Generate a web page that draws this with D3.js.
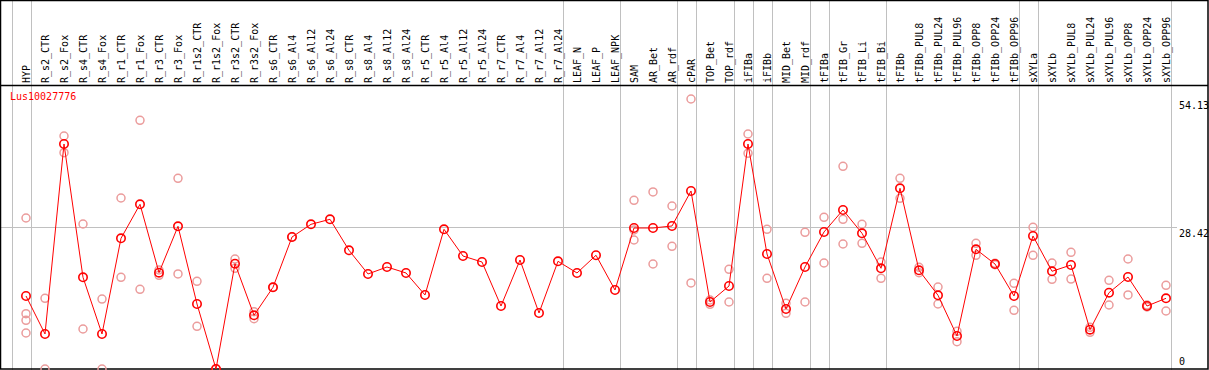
<!DOCTYPE html>
<html>
<head>
<meta charset="utf-8">
<script src="https://cdn.jsdelivr.net/npm/d3@7"></script>
<style>
  body { margin: 0; background: #fff; }
  text { font-family: "DejaVu Sans Mono", monospace; font-size: 10px; }
</style>
</head>
<body>
<div id="chart"></div>
<script>
// gene name shown in the plot corner
const geneName = 'Lus10027776';

// sample / tissue names, in plot order
const categories = [
  'HYP', 'R_s2_CTR', 'R_s2_Fox', 'R_s4_CTR', 'R_s4_Fox', 'R_r1_CTR', 'R_r1_Fox',
  'R_r3_CTR', 'R_r3_Fox', 'R_r1s2_CTR', 'R_r1s2_Fox', 'R_r3s2_CTR', 'R_r3s2_Fox',
  'R_s6_CTR', 'R_s6_Al4', 'R_s6_Al12', 'R_s6_Al24', 'R_s8_CTR', 'R_s8_Al4',
  'R_s8_Al12', 'R_s8_Al24', 'R_r5_CTR', 'R_r5_Al4', 'R_r5_Al12', 'R_r5_Al24',
  'R_r7_CTR', 'R_r7_Al4', 'R_r7_Al12', 'R_r7_Al24', 'LEAF_N', 'LEAF_P', 'LEAF_NPK',
  'SAM', 'AR_Bet', 'AR_rdf', 'cPAR', 'TOP_Bet', 'TOP_rdf', 'iFIBa', 'iFIBb',
  'MID_Bet', 'MID_rdf', 'tFIBa', 'tFIB_Gr', 'tFIB_Li', 'tFIB_Bi', 'tFIBb',
  'tFIBb_PUL8', 'tFIBb_PUL24', 'tFIBb_PUL96', 'tFIBb_OPP8', 'tFIBb_OPP24', 'tFIBb_OPP96',
  'sXYLa', 'sXYLb', 'sXYLb_PUL8', 'sXYLb_PUL24', 'sXYLb_PUL96',
  'sXYLb_OPP8', 'sXYLb_OPP24', 'sXYLb_OPP96'
];

// mean expression per sample
const means = [
  14.64, 7.02, 45.11, 18.38, 7.02, 26.20, 33.02, 19.31, 28.61, 13.03, 0, 21.11, 10.77,
  16.38, 26.46, 29.01, 30.01, 23.80, 19.05, 20.45, 19.25, 14.84, 28.01, 22.65, 21.45,
  12.63, 21.85, 11.23, 21.59, 19.25, 22.80, 15.84,
  28.27, 28.27, 28.67, 35.69, 13.43, 16.64, 45.11, 23.06, 12.03, 20.45, 27.47, 31.88,
  27.21, 20.19, 36.23, 19.79, 14.78, 6.62, 24.00, 21.05, 14.64,
  26.67, 19.59, 20.85, 7.88, 15.30, 18.44, 12.63, 14.17
];

// individual replicate values per sample
const replicates = [
  [30.27, 11.09, 9.76, 7.22], [14.17, 0], [46.71, 43.37], [29.07, 8.02], [14.03, 0],
  [34.28, 18.38], [49.86, 15.98], [19.85, 18.79], [38.23, 19.05], [17.58, 8.56], [0, 0],
  [22.05, 20.19], [11.49, 10.08], [16.38], [26.46],
  [], [], [], [], [], [], [], [], [], [], [], [], [], [], [], [], [],
  [33.82, 27.87, 25.86], [35.49, 21.05], [32.68, 24.60], [54.13, 17.25], [13.83, 12.97],
  [19.99, 13.43], [47.11, 43.24], [28.01, 18.18], [13.17, 11.17], [27.41, 13.43],
  [30.41, 21.25], [40.64, 30.01, 25.06], [29.01, 25.20], [21.45, 18.18], [38.23, 34.22],
  [20.39, 19.31], [16.44, 13.03], [7.56, 5.47], [25.20, 22.80], [21.20, 20.90],
  [17.18, 11.77], [28.41, 22.80], [21.25, 17.98], [23.40, 18.04], [8.36, 7.36],
  [17.78, 12.83], [22.05, 14.84], [12.83, 12.43], [16.78, 11.63]
];

// group separators are drawn right after these samples
const separatorsAfter = [
  'HYP', 'R_r7_Al24', 'LEAF_NPK', 'AR_rdf', 'cPAR', 'TOP_rdf', 'iFIBa', 'iFIBb',
  'MID_rdf', 'tFIBa', 'tFIB_Bi', 'tFIBb_OPP96', 'sXYLa', 'sXYLb_OPP96'
];

const yTicks = [0, 28.42, 54.13];

const W = 1209, H = 370;
const headerH = 85;
const red = '#ff0000';
const pink = '#eb9c9c';
const grid = '#c0c0c0';

const svg = d3.select('#chart')
  .append('svg')
    .attr('width', W)
    .attr('height', H);

// scales
const x = d3.scalePoint()
  .domain(categories)
  .range([26, 26 + 19 * (categories.length - 1)]);
const step = x.step();

const y = d3.scaleLinear()
  .domain([0, d3.max(yTicks)])
  .range([369, 99]);

// vertical separators, full height incl. header
const sepX = [x(categories[0]) - step + 4.5].concat(separatorsAfter.map(c => x(c) + 4.5));
svg.selectAll('.sep')
  .data(sepX)
  .enter()
  .append('line')
    .attr('x1', d => Math.round(d) + 0.5)
    .attr('x2', d => Math.round(d) + 0.5)
    .attr('y1', 0)
    .attr('y2', H)
    .attr('stroke', grid)
    .attr('stroke-width', 1);

// horizontal mid grid line
svg.append('line')
  .attr('x1', 0)
  .attr('x2', 1177)
  .attr('y1', Math.round(y(yTicks[1])) + 0.5)
  .attr('y2', Math.round(y(yTicks[1])) + 0.5)
  .attr('stroke', grid);

// frame and header separator
svg.append('rect')
  .attr('x', 0.5).attr('y', 0.5)
  .attr('width', 1207.5).attr('height', 368.5)
  .attr('fill', 'none')
  .attr('stroke', '#000')
  .attr('stroke-width', 1.5);
svg.append('line')
  .attr('x1', 0).attr('x2', 1208)
  .attr('y1', headerH + 0.5).attr('y2', headerH + 0.5)
  .attr('stroke', '#000')
  .attr('stroke-width', 1.5);

// rotated sample labels
svg.selectAll('.lbl')
  .data(categories)
  .enter()
  .append('text')
    .attr('transform', d => `translate(${x(d) + 0.5},83) rotate(-90)`)
    .attr('dy', '0.35em')
    .attr('fill', '#000')
    .text(d => d);

// y labels on the right
svg.selectAll('.ytick')
  .data(yTicks)
  .enter()
  .append('text')
    .attr('x', 1179)
    .attr('y', d => d === 0 ? y(d) - 4 : y(d) + 3)
    .attr('dominant-baseline', d => d === 0 ? 'auto' : 'hanging')
    .attr('fill', '#000')
    .text(d => d);

// gene name
svg.append('text')
  .attr('x', 10)
  .attr('y', 100)
  .attr('fill', red)
  .text(geneName);

// replicate points
const repPts = [];
replicates.forEach((r, i) => r.forEach(v => repPts.push({ c: categories[i], v })));
svg.selectAll('.rep')
  .data(repPts)
  .enter()
  .append('circle')
    .attr('cx', d => x(d.c))
    .attr('cy', d => y(d.v))
    .attr('r', 4)
    .attr('fill', 'none')
    .attr('stroke', pink)
    .attr('stroke-width', 1.5);

// mean line
const line = d3.line()
  .x((d, i) => x(categories[i]))
  .y(d => y(d));
svg.append('path')
  .datum(means)
  .attr('d', line)
  .attr('fill', 'none')
  .attr('stroke', red)
  .attr('stroke-width', 1);

svg.selectAll('.mean')
  .data(means)
  .enter()
  .append('circle')
    .attr('cx', (d, i) => x(categories[i]))
    .attr('cy', d => y(d))
    .attr('r', 4.2)
    .attr('fill', 'none')
    .attr('stroke', red)
    .attr('stroke-width', 1.6);
</script>
</body>
</html>
